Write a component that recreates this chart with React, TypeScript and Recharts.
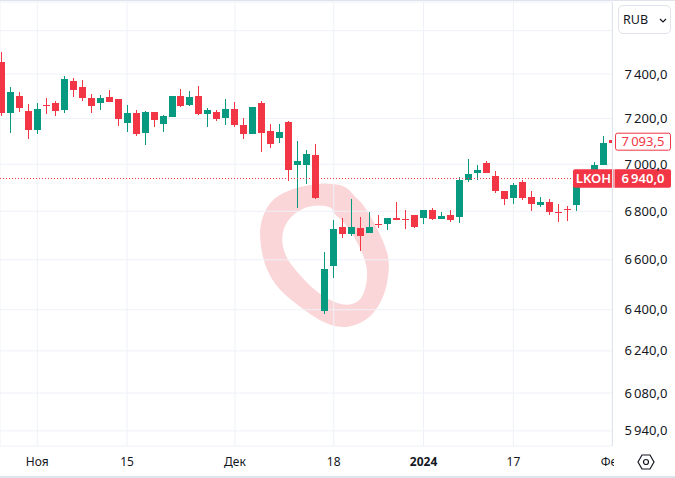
import React from "react";
import { ComposedChart, Bar, XAxis, YAxis, CartesianGrid, ReferenceLine } from "recharts";

const RED = "#f23645";
const GREEN = "#089981";
const GRID = "#eef1f7";
const FONT = "'Noto Sans', sans-serif";

// daily candles, Oct 2023 - Feb 2024
const opens = [
  7455, 7226, 7301, 7234, 7151, 7261, 7270, 7240, 7369, 7342, 7292, 7271, 7297, 7288, 7182, 7225, 7134,
  7229, 7177, 7208, 7301, 7260, 7301, 7220, 7229, 7202, 7243, 7172, 7132, 7270, 7146, 7115, 7185, 6997,
  6997, 7041, 6395, 6575, 6735, 6707, 6731, 6711, 6748, 6748, 6773, 6769, 6785, 6773, 6806, 6769, 6785,
  6777, 6933, 6963, 7006, 6950, 6887, 6857, 6925, 6861, 6827, 6840, 6797, 6810, 6827, 6933, 6950, 6997, 7106,
];
const highs = [
  7500, 7342, 7319, 7265, 7270, 7292, 7279, 7391, 7382, 7373, 7310, 7306, 7328, 7288, 7261, 7238, 7234,
  7229, 7216, 7301, 7333, 7324, 7346, 7247, 7238, 7288, 7274, 7202, 7252, 7279, 7176, 7176, 7189, 7102,
  7062, 7089, 6632, 6764, 6773, 6853, 6777, 6797, 6785, 6773, 6840, 6806, 6785, 6806, 6814, 6797, 6806,
  6946, 7023, 6997, 7014, 6972, 6887, 6921, 6933, 6887, 6861, 6853, 6831, 6823, 6976, 6976, 7010, 7124, 7146,
];
const lows = [
  7211, 7138, 7231, 7112, 7134, 7222, 7213, 7226, 7298, 7280, 7226, 7240, 7274, 7169, 7142, 7125, 7086,
  7164, 7142, 7208, 7253, 7258, 7216, 7163, 7189, 7172, 7163, 7111, 7132, 7054, 7071, 7093, 6929, 6814,
  6916, 6853, 6383, 6527, 6690, 6698, 6636, 6711, 6731, 6723, 6764, 6727, 6731, 6748, 6764, 6769, 6756,
  6752, 6925, 6933, 6963, 6878, 6827, 6831, 6848, 6802, 6819, 6785, 6756, 6760, 6802, 6912, 6925, 6997, 7062,
];
const closes = [
  7226, 7319, 7249, 7151, 7243, 7256, 7235, 7378, 7330, 7294, 7258, 7292, 7276, 7199, 7225, 7134, 7229,
  7195, 7211, 7301, 7258, 7297, 7220, 7238, 7198, 7243, 7172, 7132, 7252, 7137, 7089, 7141, 6976, 7014,
  7045, 6857, 6563, 6727, 6707, 6735, 6698, 6735, 6744, 6773, 6764, 6764, 6735, 6806, 6769, 6781, 6764,
  6933, 6959, 6976, 6963, 6887, 6853, 6912, 6857, 6831, 6840, 6797, 6793, 6806, 6968, 6960, 6997, 7093, 7093.5,
];

const priceTicks = [7600, 7400, 7200, 7000, 6800, 6600, 6400, 6240, 6080, 5940];
const timeTicks = [4, 14, 26, 37, 47, 57, 68];
const timeLabels = ["Ноя", "15", "Дек", "18", "2024", "17", "Фев"];
const lastPrice = 6940;
const quotePrice = 7093.5;

const candles = opens.map((open, i) => ({
  i,
  open,
  close: closes[i],
  wick: [lows[i], highs[i]],
  body: [Math.min(open, closes[i]), Math.max(open, closes[i])],
}));

const fmt = (v: number, digits = 1) => {
  const [a, b] = v.toFixed(digits).split(".");
  return `${a[0]}\u2009${a.slice(1)},${b}`;
};

// hand drawn marker around the gap
const ringOuter = [
  [312, 184], [332, 183], [347, 187], [355, 197], [363, 204], [374, 222], [385, 245], [390, 263], [386, 292], [374, 314],
  [358, 325], [340, 328], [322, 322], [301, 308], [278, 289], [266, 269], [260, 245], [260, 222], [270, 201], [288, 190],
];
const ringInner = [
  [332, 207], [318, 205], [302, 208], [287, 220], [281, 237], [285, 256], [296, 271], [312, 288], [327, 299], [345, 306],
  [359, 302], [365, 291], [368, 273], [364, 256], [354, 236], [343, 221], [333, 213],
];
const smooth = (pts: number[][]) => {
  const mid = (a: number[], b: number[]) => [(a[0] + b[0]) / 2, (a[1] + b[1]) / 2];
  const start = mid(pts[pts.length - 1], pts[0]);
  let d = `M${start[0]},${start[1]}`;
  pts.forEach((p, k) => {
    const m = mid(p, pts[(k + 1) % pts.length]);
    d += ` Q${p[0]},${p[1]} ${m[0]},${m[1]}`;
  });
  return d + "Z";
};

const CandlePart = (props: any) => {
  const { x, y, width, height, payload } = props;
  const cx = x + width / 2;
  const left = Math.round(cx - 3.5);
  const px = width < 3 ? left + 3 : left;
  const top = Math.round(Math.min(y, y + height));
  return (
    <rect
      x={px}
      y={top}
      width={width < 3 ? 1 : 7}
      height={Math.max(1, Math.round(Math.abs(height)))}
      fill={payload.close >= payload.open ? GREEN : RED}
    />
  );
};

const TimeTick = ({ x, y, payload }: any) => {
  const label = timeLabels[timeTicks.indexOf(payload.value)];
  return (
    <text
      x={x}
      y={y}
      dy={4}
      textAnchor="middle"
      fontFamily={FONT}
      fontSize={12}
      fontWeight={label === "2024" ? 700 : 400}
      fill="#131722"
    >
      {label}
    </text>
  );
};

const LastTag = ({ viewBox }: any) => {
  const cy = viewBox.y;
  return (
    <g fontFamily={FONT} fontSize={13} fontWeight={600} fill="#fff">
      <path d={`M575,${cy - 9}H613.5V${cy + 9.5}H575a2,2 0 0 1 -2,-2V${cy - 7}a2,2 0 0 1 2,-2Z`} fill={RED} />
      <path d={`M614.5,${cy - 9}H669a2,2 0 0 1 2,2V${cy + 7.5}a2,2 0 0 1 -2,2H614.5Z`} fill={RED} />
      <text x={593.5} y={cy + 4.5} textAnchor="middle">LKOH</text>
      <text x={643} y={cy + 4.5} textAnchor="middle">{fmt(lastPrice)}</text>
    </g>
  );
};

const QuoteTag = ({ viewBox }: any) => {
  const cy = viewBox.y - 1;
  return (
    <g fontFamily={FONT} fontSize={13}>
      <rect x={615.5} y={cy - 8.5} width={55} height={17} rx={2} fill="#fff" stroke={RED} />
      <text x={643} y={cy + 4.5} textAnchor="middle" fill={RED}>{fmt(quotePrice)}</text>
    </g>
  );
};

export default function App() {
  return (
    <div style={{ position: "fixed", left: 0, top: 0, width: 675, height: 478, background: "#fff", overflow: "hidden" }}>
      <svg width={675} height={478} style={{ position: "absolute", left: 0, top: 0 }}>
        <path d={smooth(ringOuter) + smooth(ringInner)} fill="#fbd6d9" fillRule="evenodd" />
      </svg>
      <div style={{ position: "absolute", left: 0, top: 0 }}>
        <ComposedChart
          width={675}
          height={478}
          data={candles}
          margin={{ top: 2, right: 0, bottom: 0, left: 0 }}
        >
          <CartesianGrid stroke={GRID} />
          <XAxis
            dataKey="i"
            type="number"
            domain={[-0.145, 68.03]}
            allowDataOverflow
            ticks={timeTicks}
            interval={0}
            height={32}
            axisLine={false}
            tickLine={false}
            tick={<TimeTick />}
            tickMargin={10}
          />
          <XAxis xAxisId="wick" dataKey="i" type="number" domain={[-0.145, 68.03]} allowDataOverflow hide />
          <YAxis
            orientation="right"
            scale="log"
            domain={[5884.9, 7735.5]}
            allowDataOverflow
            ticks={priceTicks}
            interval={0}
            width={62.5}
            axisLine={{ stroke: "#e0e3eb" }}
            tickLine={false}
            tickMargin={6}
            tick={{ fontFamily: FONT, fontSize: 13, fill: "#131722" }}
            tickFormatter={(v: number) => (v === 7600 ? "" : fmt(v))}
          />
          <Bar xAxisId="wick" dataKey="wick" barSize={1} shape={<CandlePart />} isAnimationActive={false} />
          <Bar dataKey="body" barSize={7} shape={<CandlePart />} isAnimationActive={false} />
          <ReferenceLine y={quotePrice} stroke="none" label={<QuoteTag />} />
          <ReferenceLine y={lastPrice} stroke={RED} strokeDasharray="1 2" shapeRendering="crispEdges" label={<LastTag />} />
        </ComposedChart>
      </div>
      {/* RUB selector */}
      <div
        style={{
          position: "absolute", left: 618, top: 5, width: 51, height: 27, border: "1px solid #e0e3eb", borderRadius: 5,
          background: "#fff", fontFamily: FONT, fontSize: 12.5, color: "#131722", lineHeight: "27px",
        }}
      >
        <span style={{ marginLeft: 4 }}>RUB</span>
        <svg width={8} height={5} style={{ position: "absolute", left: 40, top: 12 }}>
          <path d="M1,1 L4,4 L7,1" fill="none" stroke="#131722" strokeWidth={1.2} />
        </svg>
      </div>
      {/* corner under the price scale */}
      <div style={{ position: "absolute", left: 614, top: 447, width: 61, height: 29, background: "#fff" }}>
        <svg width={18} height={16} style={{ position: "absolute", left: 22.5, top: 7 }}>
          <path d="M5,1 H13 L17,8 L13,15 H5 L1,8 Z" fill="none" stroke="#131722" strokeWidth={1.2} />
          <circle cx={9} cy={8} r={2.5} fill="none" stroke="#131722" strokeWidth={1.2} />
        </svg>
      </div>
      <div style={{ position: "absolute", left: 0, top: 0, width: 675, height: 1, background: "#e0e3eb" }} />
      <div style={{ position: "absolute", left: 0, top: 476, width: 675, height: 2, background: "#e0e3eb" }} />
    </div>
  );
}
